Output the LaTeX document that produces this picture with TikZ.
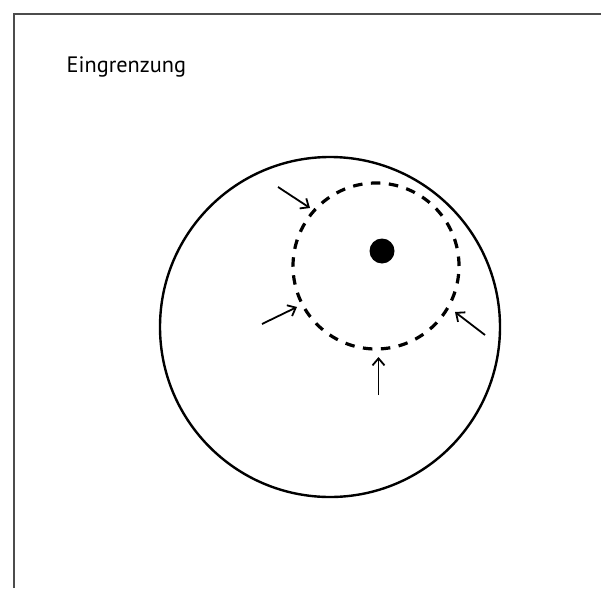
\documentclass[tikz,border=0pt]{standalone}
\usepackage{fontspec}
\setmainfont{PT Sans}
\usetikzlibrary{arrows.meta}
\begin{document}
\begin{tikzpicture}[x=1pt,y=1pt,
  frameline/.style={draw=black!70,line width=1.3pt},
  ring/.style={circle,draw,line width=2.4pt,inner sep=0pt},
  dashring/.style={circle,draw,line width=3.2pt,inner sep=0pt,dash pattern=on 9.5pt off 8.5pt},
  pusharrow/.style={line width=1.8pt,-{Straight Barb[length=7pt,width=12pt,line width=1.8pt]}},
  title/.style={anchor=base west,inner sep=0pt,font=\fontsize{22.3}{25}\selectfont}]
\useasboundingbox (0,0) rectangle (601,-588);
\draw[frameline] (14,-588) -- (14,-14) -- (601,-14);
\node[title] (t) at (66.5,-73) {Eingrenzung};
\node[ring,minimum size=340pt] (outer) at (330,-327) {};
\node[dashring,minimum size=166pt] (inner) at (376,-266) {};
\node[circle,fill=black,inner sep=0pt,minimum size=25pt] (dot) at (382,-251) {};
\coordinate (s1) at (278,-187); \coordinate (e1) at (310,-208);
\coordinate (s2) at (262,-324); \coordinate (e2) at (297,-307);
\coordinate (s3) at (485,-335); \coordinate (e3) at (455,-312);
\coordinate (s4) at (378.5,-395); \coordinate (e4) at (378.5,-357);
\draw[pusharrow] (s1) -- (e1);
\draw[pusharrow] (s2) -- (e2);
\draw[pusharrow] (s3) -- (e3);
\draw[pusharrow] (s4) -- (e4);
\end{tikzpicture}
\end{document}
